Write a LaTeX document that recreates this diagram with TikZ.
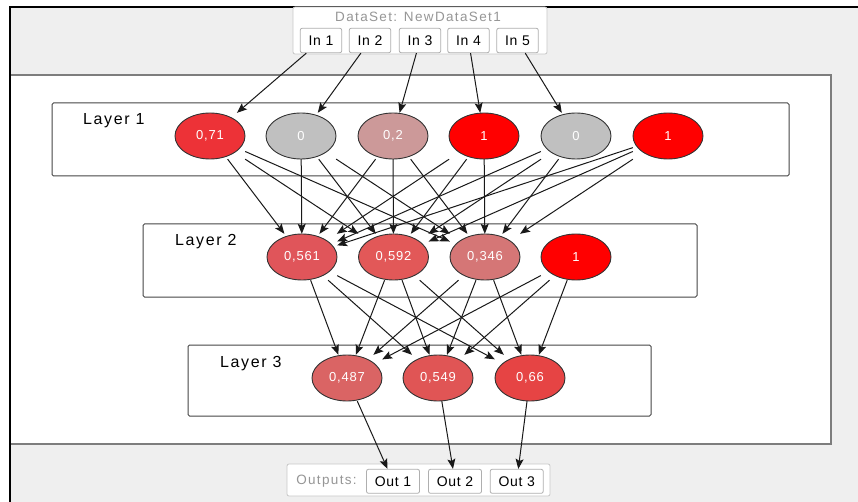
\documentclass[tikz,border=0pt]{standalone}
\usepackage{fontspec}
\setmainfont{Liberation Sans}
\setsansfont{Liberation Sans}
\usetikzlibrary{shapes.geometric,arrows.meta}
\newfontfamily\lblf[LetterSpace=10]{Liberation Sans}
\newfontfamily\valf[LetterSpace=6]{Liberation Sans}
\newfontfamily\boxf[LetterSpace=5]{Liberation Sans}
\newfontfamily\grayf[LetterSpace=10]{Liberation Sans}
\definecolor{bgray}{RGB}{239,239,239}
\definecolor{panelb}{RGB}{125,125,125}
\definecolor{layerb}{RGB}{70,70,70}
\definecolor{lightb}{RGB}{200,200,200}
\definecolor{inb}{RGB}{175,175,175}
\definecolor{graytxt}{RGB}{150,150,150}
\definecolor{cA}{RGB}{237,50,55}
\definecolor{cG}{RGB}{192,192,192}
\definecolor{cB}{RGB}{204,153,153}
\definecolor{cR}{RGB}{255,0,0}
\definecolor{cC}{RGB}{224,85,90}
\definecolor{cD}{RGB}{226,88,88}
\definecolor{cE}{RGB}{213,118,118}
\definecolor{cF}{RGB}{218,100,100}
\definecolor{cH}{RGB}{224,85,85}
\definecolor{cI}{RGB}{230,68,68}
\tikzset{
  neuron/.style={ellipse, draw=black!80, line width=0.9pt, minimum width=70pt, minimum height=46pt, inner sep=0pt, text=white, font=\valf\fontsize{13}{14}\selectfont},
  hit/.style={rectangle, draw=none, minimum width=70pt, minimum height=46pt, inner sep=0pt},
  layerbox/.style={draw=layerb, line width=1pt, fill=white, rounded corners=1.5pt},
  iobox/.style={draw=inb, line width=0.8pt, fill=white, rounded corners=2pt, inner sep=0pt, text height=10pt, text depth=0pt, font=\boxf\fontsize{14}{15}\selectfont},
  outerbox/.style={draw=lightb, line width=0.8pt, fill=white, rounded corners=2pt},
  layerlbl/.style={anchor=base west, inner sep=0pt, font=\lblf\fontsize{16}{17}\selectfont},
  graylbl/.style={inner sep=0pt, text=graytxt, font=\grayf\fontsize{13.5}{14}\selectfont},
  edge/.style={draw=black!90, line width=1pt, -{Stealth[length=10pt,width=8pt,inset=2pt]}}
}
\begin{document}
\begin{tikzpicture}[x=1pt,y=-1pt]
\fill[white] (0,0) rectangle (858,502);
\useasboundingbox (0,0) rectangle (858,502);
% frame
\fill[bgray] (10,7) rectangle (858,502);
\draw[panelb, line width=1.4pt, fill=white] (10,75) rectangle (831,444);
\draw[black, line width=1.6pt] (10,502) -- (10,7) -- (858,7);
% top dataset box
\draw[outerbox] (293,7) rectangle (547,54);
\node[graylbl] (dslbl) at (418,17) {DataSet: NewDataSet1};
\node[iobox, minimum width=41.5pt, minimum height=24.5pt] (in1) at (321,40.5) {In 1};
\node[iobox, minimum width=41.5pt, minimum height=24.5pt] (in2) at (370,40.5) {In 2};
\node[iobox, minimum width=41.5pt, minimum height=24.5pt] (in3) at (420,40.5) {In 3};
\node[iobox, minimum width=41.5pt, minimum height=24.5pt] (in4) at (468.5,40.5) {In 4};
\node[iobox, minimum width=41.5pt, minimum height=24.5pt] (in5) at (517.5,40.5) {In 5};
% outputs box
\draw[outerbox] (287,464) rectangle (550,496);
\node[graylbl] (outlbl) at (326.5,481.5) {Outputs:};
\node[iobox, minimum width=53pt, minimum height=24pt] (out1) at (393,481.3) {Out 1};
\node[iobox, minimum width=53pt, minimum height=24pt] (out2) at (455,481.3) {Out 2};
\node[iobox, minimum width=53pt, minimum height=24pt] (out3) at (516.7,481.3) {Out 3};
% layer boxes
\draw[layerbox] (52,103) rectangle (789,176);
\draw[layerbox] (143,224) rectangle (697,297);
\draw[layerbox] (188,345) rectangle (651,416);
\node[layerlbl] (lab1) at (83,125) {Layer 1};
\node[layerlbl] (lab2) at (175,246) {Layer 2};
\node[layerlbl] (lab3) at (220,367) {Layer 3};
% layer 1
\node[neuron, fill=cA] (l1a-e) at (210,136) {0,71};
\node[neuron, fill=cG] (l1b-e) at (301,136) {0};
\node[neuron, fill=cB] (l1c-e) at (393,136) {0,2};
\node[neuron, fill=cR] (l1d-e) at (484,136) {1};
\node[neuron, fill=cG] (l1e-e) at (576,136) {0};
\node[neuron, fill=cR] (l1f-e) at (668,136) {1};
\foreach \n/\x in {a/210,b/301,c/393,d/484,e/576,f/668}
  \node[hit] (l1\n) at (\x,136) {};
% layer 2
\node[neuron, fill=cC] (l2a-e) at (302,257) {0,561};
\node[neuron, fill=cD] (l2b-e) at (393.5,257) {0,592};
\node[neuron, fill=cE] (l2c-e) at (485,257) {0,346};
\node[neuron, fill=cR] (l2d-e) at (576,257) {1};
\foreach \n/\x in {a/302,b/393.5,c/485,d/576}
  \node[hit] (l2\n) at (\x,257) {};
% layer 3
\node[neuron, fill=cF] (l3a-e) at (347,378) {0,487};
\node[neuron, fill=cH] (l3b-e) at (438,378) {0,549};
\node[neuron, fill=cI] (l3c-e) at (530,378) {0,66};
\foreach \n/\x in {a/347,b/438,c/530}
  \node[hit] (l3\n) at (\x,378) {};
% connectors
\foreach \i/\n in {1/a,2/b,3/c,4/d,5/e}
  \draw[edge] (in\i) -- (l1\n);
\foreach \s in {a,b,c,d,e,f}
  \foreach \t in {a,b,c}
    \draw[edge] (l1\s) -- (l2\t);
\foreach \s in {a,b,c,d}
  \foreach \t in {a,b,c}
    \draw[edge] (l2\s) -- (l3\t);
\foreach \i/\n in {1/a,2/b,3/c}
  \draw[edge] (l3\n) -- (out\i);
\end{tikzpicture}
\end{document}
